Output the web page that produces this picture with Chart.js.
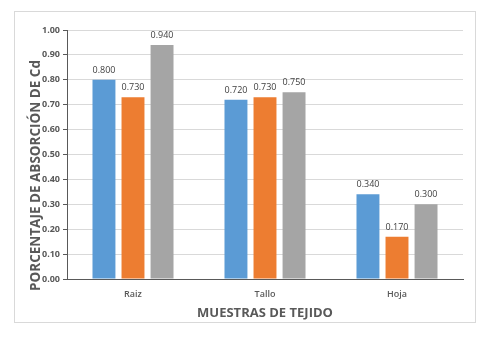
<!DOCTYPE html>
<html>
<head>
<meta charset="utf-8">
<script src="https://cdn.jsdelivr.net/npm/chart.js@4.4.1/dist/chart.umd.min.js"></script>
<style>
  html, body { margin: 0; padding: 0; background: #fff; }
  #wrap { width: 493px; height: 337px; }
</style>
</head>
<body>
<div id="wrap"><canvas id="chart"></canvas></div>
<script>
// datos
const muestras = ['Raiz', 'Tallo', 'Hoja'];
const serie1 = [0.80, 0.72, 0.34];
const serie2 = [0.73, 0.73, 0.17];
const serie3 = [0.94, 0.75, 0.30];
const colores = ['#5B9BD5', '#ED7D31', '#A5A5A5'];
const tituloY = 'PORCENTAJE DE ABSORCIÓN DE Cd';

// marco exterior + titulo del eje Y (va un poco mas abajo que el centro, como en Excel)
const marco = {
    id: 'marco',
    beforeDraw(chart) {
        const c = chart.ctx;
        c.save();
        c.fillStyle = '#fff';
        c.fillRect(0, 0, chart.width, chart.height);
        c.strokeStyle = '#d9d9d9';
        c.lineWidth = 1;
        c.strokeRect(14.5, 11.5, 461, 311);
        c.restore();
    },
    afterDraw(chart) {
        const c = chart.ctx;
        const area = chart.chartArea;
        c.save();
        c.translate(36, (area.top + area.bottom) / 2 + 21);
        c.rotate(-Math.PI / 2);
        c.font = 'bold 13.5px "Open Sans"';
        c.fillStyle = '#595959';
        c.textAlign = 'center';
        c.textBaseline = 'middle';
        c.fillText(tituloY, 0, 0);
        c.restore();
    }
};

// etiquetas de valor encima de las barras
const etiquetas = {
    id: 'etiquetas',
    afterDatasetsDraw(chart) {
        const c = chart.ctx;
        c.save();
        c.font = '9px "Open Sans"';
        c.fillStyle = '#404040';
        c.textAlign = 'center';
        c.textBaseline = 'bottom';
        chart.data.datasets.forEach((ds, i) => {
            chart.getDatasetMeta(i).data.forEach((bar, j) => {
                c.fillText(ds.data[j].toFixed(3), bar.x, bar.y - 5);
            });
        });
        c.restore();
    }
};

new Chart(document.getElementById('chart'), {
    type: 'bar',
    data: {
        labels: muestras,
        datasets: [
            { data: serie1, backgroundColor: colores[0] },
            { data: serie2, backgroundColor: colores[1] },
            { data: serie3, backgroundColor: colores[2] }
        ].map(d => ({ ...d, categoryPercentage: 0.66, barPercentage: 0.79 }))
    },
    options: {
        responsive: true,
        maintainAspectRatio: false,
        animation: false,
        layout: { padding: { top: 30, right: 30, bottom: 12, left: 18 } },
        plugins: { legend: { display: false }, tooltip: { enabled: false } },
        scales: {
            x: {
                afterFit(s) { s.height = 46; },
                grid: { display: false },
                border: { color: '#595959', width: 1 },
                ticks: { color: '#595959', font: { family: 'Open Sans', size: 9, weight: '600' }, padding: 2 },
                title: { display: true, text: 'MUESTRAS DE TEJIDO', color: '#595959',
                         font: { family: 'Open Sans', size: 13, weight: 'bold' }, padding: { top: 0, bottom: 4 } }
            },
            y: {
                min: 0, max: 1,
                afterFit(s) { s.width = 49; },
                grid: { color: '#d9d9d9', tickColor: '#595959', tickLength: 4 },
                border: { color: '#595959', width: 1 },
                ticks: { stepSize: 0.1, color: '#595959', padding: 3,
                         font: { family: 'Open Sans', size: 9, weight: 'bold' },
                         callback: v => v.toFixed(2) }
            }
        }
    },
    plugins: [marco, etiquetas]
});
</script>
</body>
</html>
